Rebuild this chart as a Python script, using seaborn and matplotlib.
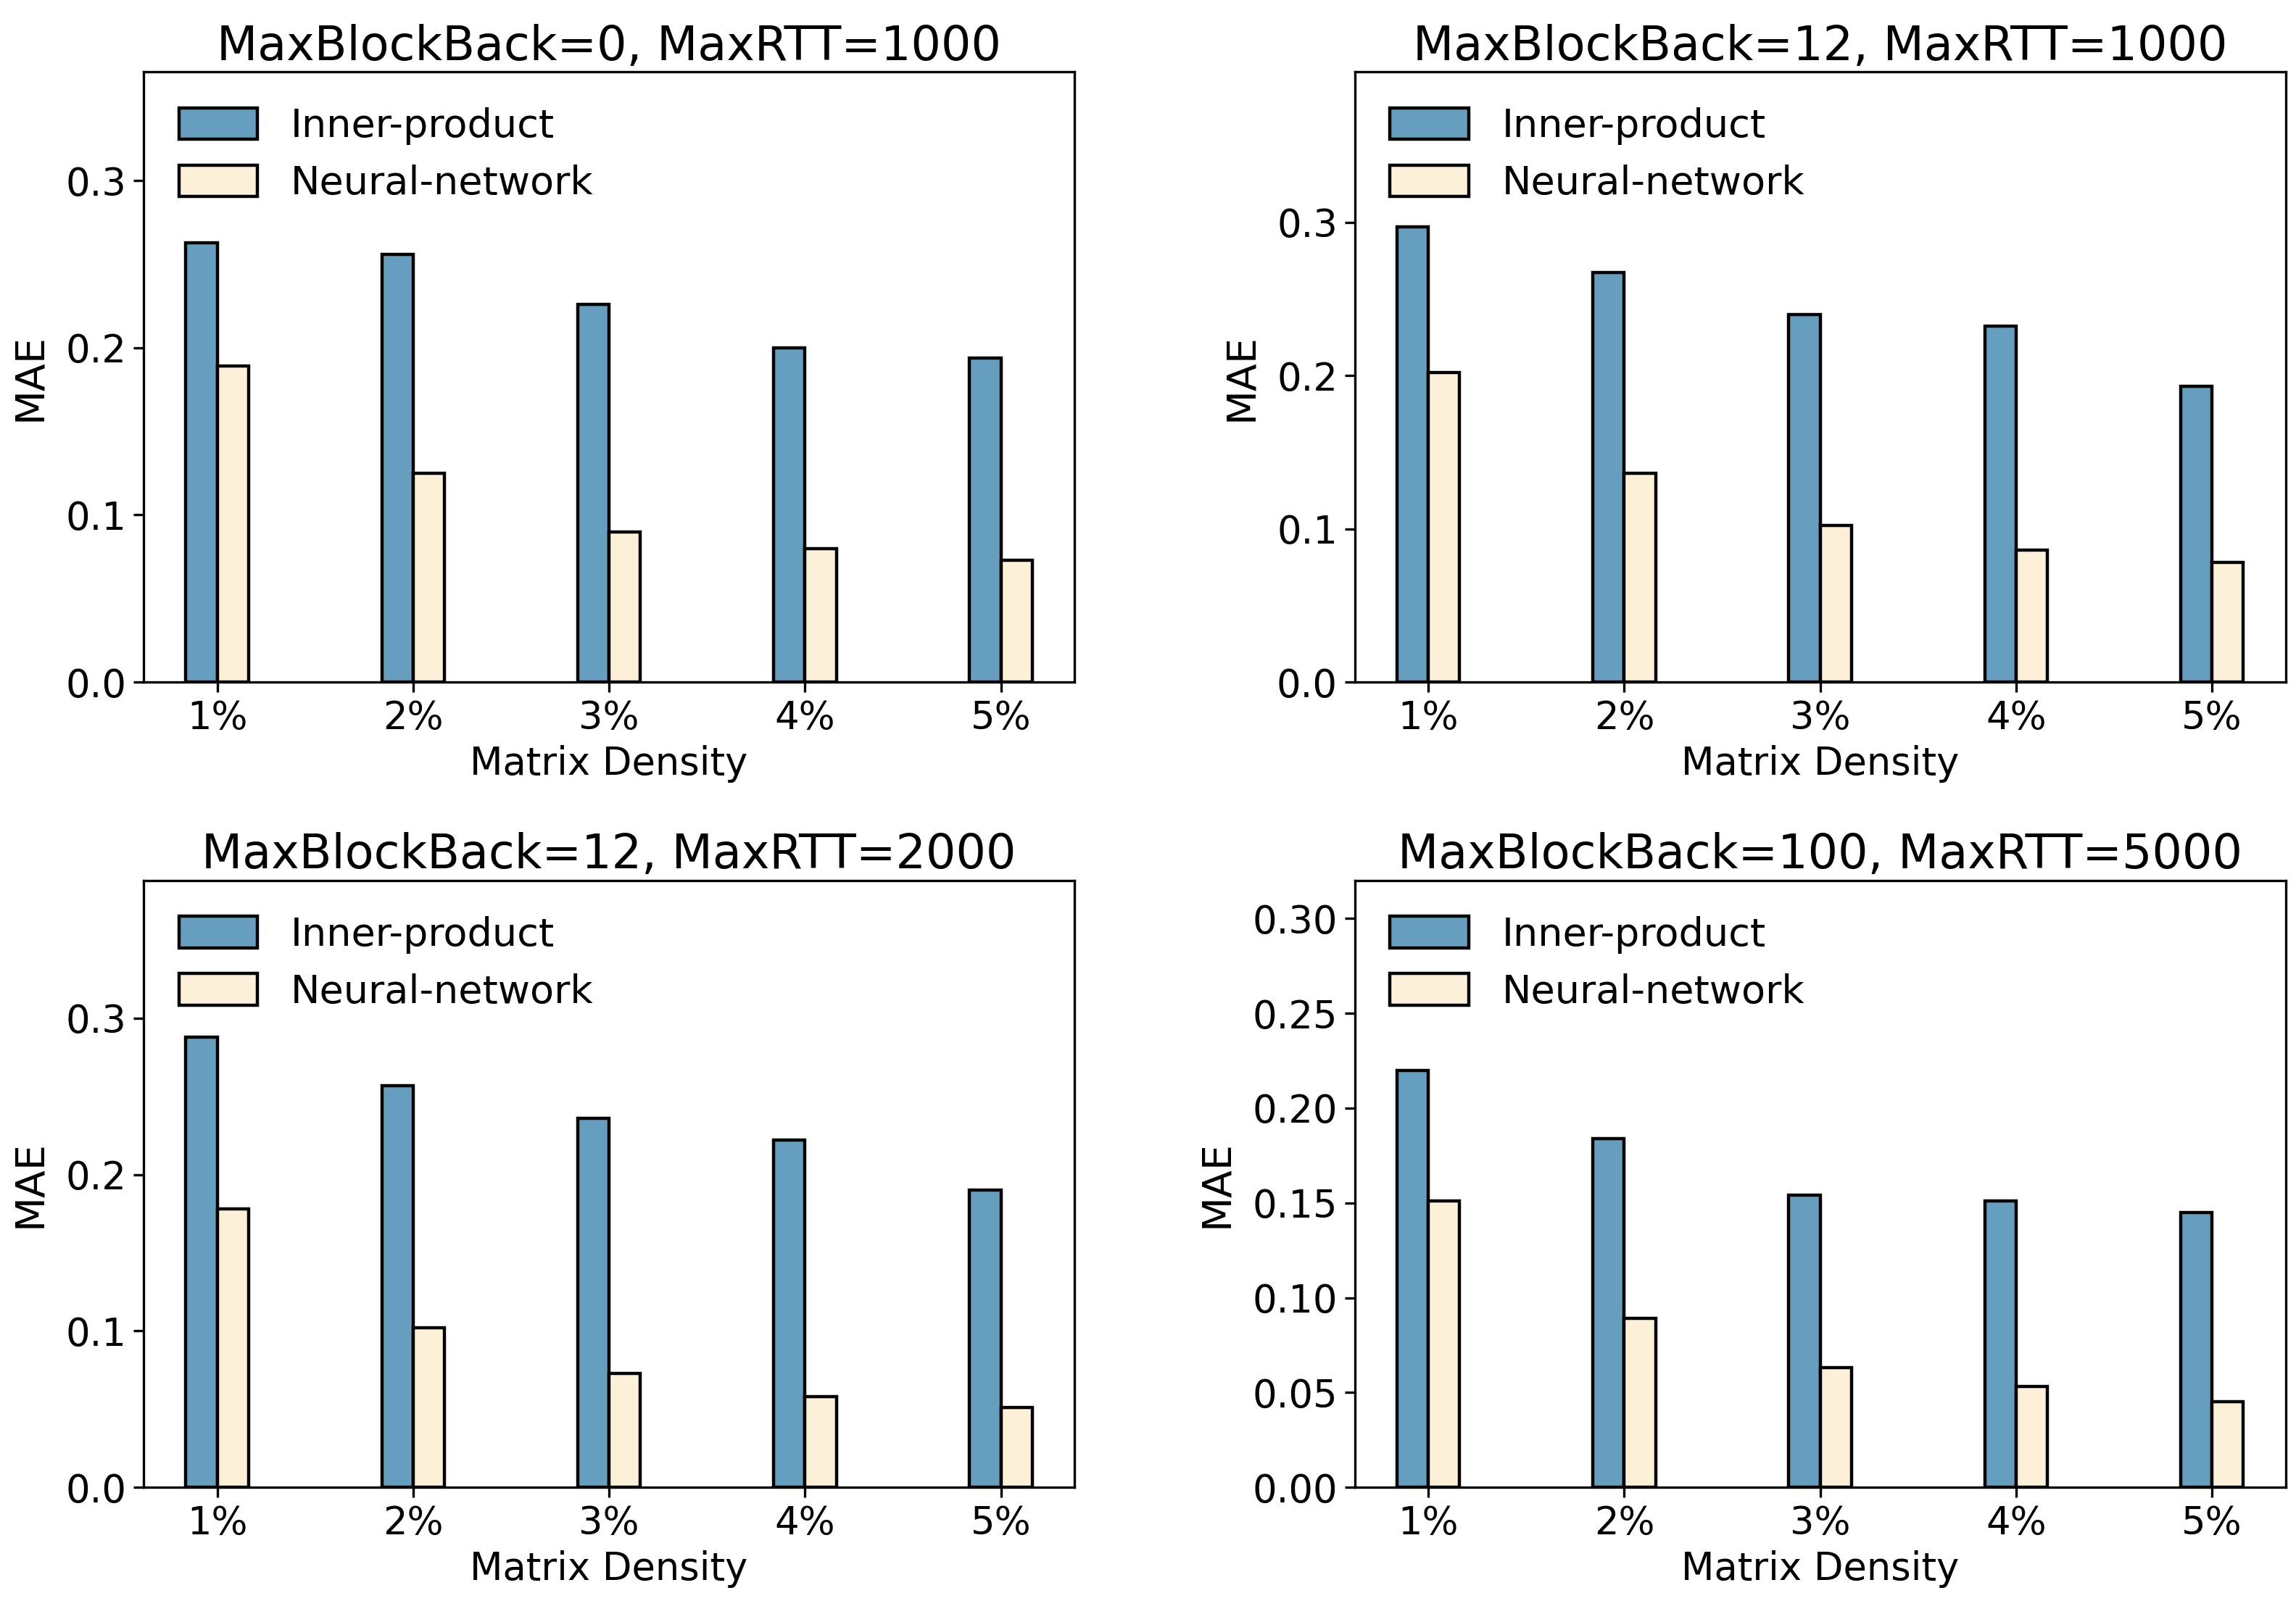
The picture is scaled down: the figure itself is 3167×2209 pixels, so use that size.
import pandas as pd
import matplotlib
matplotlib.use("Agg")
import matplotlib.pyplot as plt
from matplotlib.ticker import MultipleLocator
import seaborn as sns

# Data
densities = ["1%", "2%", "3%", "4%", "5%"]
methods = ["Inner-product", "Neural-network"]

titles = [
    "MaxBlockBack=0, MaxRTT=1000",
    "MaxBlockBack=12, MaxRTT=1000",
    "MaxBlockBack=12, MaxRTT=2000",
    "MaxBlockBack=100, MaxRTT=5000",
]

inner_0_1000 = [0.263, 0.256, 0.226, 0.200, 0.194]
neural_0_1000 = [0.189, 0.125, 0.090, 0.080, 0.073]

inner_12_1000 = [0.297, 0.267, 0.240, 0.232, 0.193]
neural_12_1000 = [0.202, 0.136, 0.102, 0.086, 0.078]

inner_12_2000 = [0.288, 0.257, 0.236, 0.222, 0.190]
neural_12_2000 = [0.178, 0.102, 0.073, 0.058, 0.051]

inner_100_5000 = [0.220, 0.184, 0.154, 0.151, 0.145]
neural_100_5000 = [0.151, 0.089, 0.063, 0.053, 0.045]

panels = [
    (inner_0_1000, neural_0_1000),
    (inner_12_1000, neural_12_1000),
    (inner_12_2000, neural_12_2000),
    (inner_100_5000, neural_100_5000),
]
y_tops = [0.365, 0.398, 0.388, 0.32]
y_steps = [0.1, 0.1, 0.1, 0.05]

palette = {"Inner-product": "#669ebf", "Neural-network": "#fdf0d8"}

sns.set_style("ticks")
plt.rcParams["font.family"] = ["DejaVu Sans"]
plt.rcParams["axes.edgecolor"] = "black"
plt.rcParams["text.color"] = "black"
plt.rcParams["axes.labelcolor"] = "black"
plt.rcParams["xtick.color"] = "black"
plt.rcParams["ytick.color"] = "black"
plt.rcParams["axes.linewidth"] = 1.2

fig, axes = plt.subplots(2, 2, figsize=(15.835, 11.045), dpi=200)
axes = axes.flatten()

# manual positions of the four panels (figure fractions)
boxes = [
    [0.0625, 0.574, 0.4055, 0.381],
    [0.590, 0.574, 0.4055, 0.381],
    [0.0625, 0.071, 0.4055, 0.379],
    [0.590, 0.071, 0.4055, 0.379],
]

for i, ax in enumerate(axes):
    ax.set_position(boxes[i])
    inner, neural = panels[i]
    df = pd.DataFrame({
        "density": densities * 2,
        "method": [methods[0]] * 5 + [methods[1]] * 5,
        "mae": inner + neural,
    })
    sns.barplot(data=df, x="density", y="mae", hue="method", hue_order=methods,
                palette=palette, width=0.32, dodge=True, edgecolor="black",
                linewidth=1.6, saturation=1, ax=ax)
    ax.set_xlim(-0.376, 4.376)
    ax.set_ylim(0, y_tops[i])
    ax.yaxis.set_major_locator(MultipleLocator(y_steps[i]))
    ax.set_title(titles[i], fontsize=23.5)
    ax.set_xlabel("Matrix Density", fontsize=19)
    ax.set_ylabel("MAE", fontsize=20, labelpad=8)
    ax.tick_params(axis="both", labelsize=19, length=5, width=1.2)
    for s in ax.spines.values():
        s.set_visible(True)
        s.set_color("black")
    ax.legend(loc="upper left", frameon=False, fontsize=19.5, handlelength=2.0,
              handleheight=0.85, labelspacing=0.5, handletextpad=0.85)

fig.savefig("out.png", dpi=200)
